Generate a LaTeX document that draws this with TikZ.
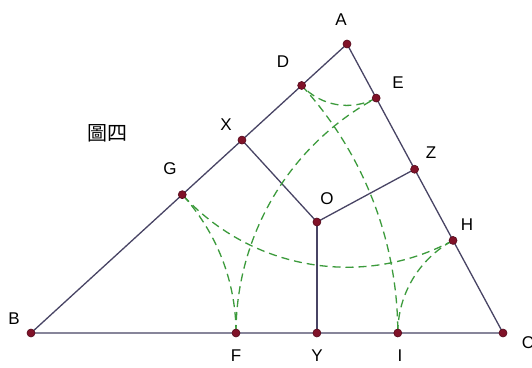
\documentclass[tikz,border=0pt]{standalone}
\usepackage{fontspec}
\setmainfont{Liberation Sans}
\newfontfamily\cjk{Noto Sans CJK TC}
\usetikzlibrary{calc}
\definecolor{segcol}{RGB}{72,68,100}
\definecolor{dashgreen}{RGB}{60,155,60}
\definecolor{dotred}{RGB}{128,18,40}
\definecolor{dotdark}{RGB}{85,10,28}
\begin{document}
\begin{tikzpicture}[x=1pt,y=1pt,
  seg/.style={draw=segcol,line width=1.3pt},
  arcdash/.style={draw=dashgreen,line width=1.3pt,dash pattern=on 8pt off 5pt},
  pt/.style={circle,fill=dotred,draw=dotdark,line width=0.6pt,inner sep=0pt,minimum size=8pt},
  lbl/.style={font=\fontsize{17}{20}\selectfont,inner sep=0pt,text=black}]
\useasboundingbox (0,0) rectangle (532,367);
\fill[white] (0,0) rectangle (532,367);
% vertices
\coordinate (A) at (347,323);
\coordinate (B) at (31,34);
\coordinate (C) at (503,34);
\coordinate (O) at (316.9,145);
% points on sides
\coordinate (G) at ($(B)!205pt!(A)$);
\coordinate (D) at ($(B)!366.8pt!(A)$);
\coordinate (X) at ($(B)!285.9pt!(A)$);
\coordinate (E) at ($(C)!267pt!(A)$);
\coordinate (H) at ($(C)!105.2pt!(A)$);
\coordinate (Z) at ($(C)!186.1pt!(A)$);
\coordinate (F) at ($(B)!205pt!(C)$);
\coordinate (Y) at ($(B)!285.9pt!(C)$);
\coordinate (I) at ($(B)!366.8pt!(C)$);
% segments
\draw[seg] (A) -- (B) -- (C) -- cycle;
\draw[seg] (X) -- (O) -- (Z);
\draw[seg] (O) -- (Y);
% dashed arcs
\draw[arcdash] (F) arc[start angle=0,end angle=42.44,radius=205];
\draw[arcdash] (F) arc[start angle=180,end angle=118.36,radius=267];
\draw[arcdash] (E) arc[start angle=-61.64,end angle=-137.56,radius=61.4];
\draw[arcdash] (D) arc[start angle=42.44,end angle=0,radius=366.8];
\draw[arcdash] (I) arc[start angle=180,end angle=118.36,radius=105.2];
\draw[arcdash] (H) arc[start angle=-61.64,end angle=-137.56,radius=223.2];
% dots
\foreach \p in {A,B,C,D,E,X,Z,G,O,H,F,Y,I}
  \node[pt] (n\p) at (\p) {};
% labels
\node[lbl] (lA) at (341,347) {A};
\node[lbl] (lD) at (283,305) {D};
\node[lbl] (lE) at (398,284) {E};
\node[lbl] (lX) at (226,242) {X};
\node[lbl] (lZ) at (431,214) {Z};
\node[lbl] (lG) at (170,198) {G};
\node[lbl] (lO) at (327,168) {O};
\node[lbl] (lH) at (467,142) {H};
\node[lbl] (lB) at (14,48) {B};
\node[lbl] (lF) at (236,11) {F};
\node[lbl] (lY) at (317,11) {Y};
\node[lbl] (lI) at (400,11) {I};
\node[lbl] (lC) at (528,24) {C};
\node[inner sep=0pt,font=\cjk\fontsize{20}{24}\selectfont] (title) at (107,234) {圖四};
\end{tikzpicture}
\end{document}
